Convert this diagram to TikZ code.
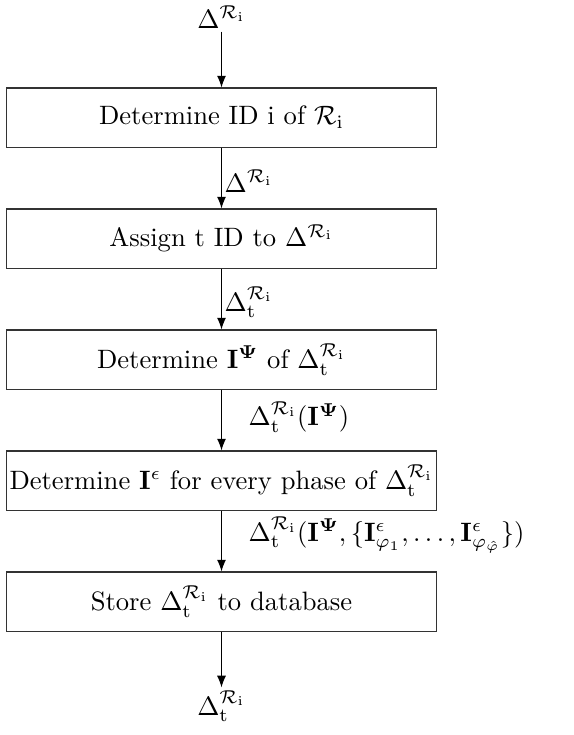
\documentclass[tikz,border=0pt]{standalone}
\usepackage{amsmath, amssymb}
\usetikzlibrary{positioning,arrows.meta}
\newcommand{\dR}{\Delta^{\mathcal{R}_\mathrm{i}}}
\newcommand{\dRt}{\Delta_\mathrm{t}^{\mathcal{R}_\mathrm{i}}}
\begin{document}
\begin{tikzpicture}
\tikzstyle{proc}=[rectangle, draw=black!80, minimum width=162pt, minimum height=22.2pt, inner sep=1pt, node distance=22.9pt]
\tikzstyle{connect}=[-{Latex[length=4.4pt,width=3.4pt]}]
\tikzstyle{lbl}=[anchor=west, inner sep=1pt]
\useasboundingbox (-83.3pt,44.2pt) rectangle (132.5pt,-232.2pt);
\node[proc] (rid) {Determine ID i of $\mathcal{R}_\mathrm{i}$};
\node[proc] (tid) [below=of rid] {Assign t ID to $\dR$};
\node[proc] (ipsi) [below=of tid] {Determine $\mathbf{I}^{\mathbf{\Psi}}$ of $\dRt$};
\node[proc] (ieps) [below=of ipsi] {Determine $\mathbf{I}^\epsilon$ for every phase of $\dRt$};
\node[proc] (store) [below=of ieps] {Store $\dRt$ to database};
\node (in) [above=21pt of rid, inner sep=1pt] {$\dR$};
\node (out) [below=21pt of store, inner sep=1pt] {$\dRt$};
\path (in) edge [connect] (rid);
\path (rid) edge [connect] node[lbl, pos=0.55] {$\dR$} (tid);
\path (tid) edge [connect] node[lbl, pos=0.55] {$\dRt$} (ipsi);
\path (ipsi) edge [connect] node[lbl, pos=0.45, xshift=9pt] {$\dRt(\mathbf{I}^{\mathbf{\Psi}})$} (ieps);
\path (ieps) edge [connect] node[lbl, pos=0.4, xshift=9pt] {$\dRt(\mathbf{I}^{\mathbf{\Psi}}, \{\mathbf{I}^\epsilon_{\varphi_1}, \dots, \mathbf{I}^\epsilon_{\varphi_{\hat{\varphi}}}\})$} (store);
\path (store) edge [connect] (out);
\end{tikzpicture}
\end{document}
